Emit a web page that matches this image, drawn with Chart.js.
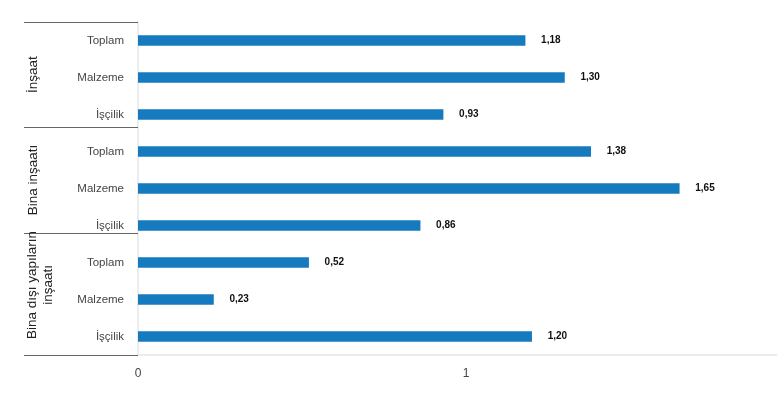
<!DOCTYPE html>
<html>
<head>
<meta charset="utf-8">
<script src="https://cdn.jsdelivr.net/npm/chart.js@4"></script>
<style>
html,body{margin:0;padding:0;background:#fff;}
#wrap{width:777px;height:398px;position:relative;}
</style>
</head>
<body>
<div id="wrap"><canvas id="c"></canvas></div>
<script>
const categories = ["Toplam","Malzeme","İşçilik","Toplam","Malzeme","İşçilik","Toplam","Malzeme","İşçilik"];
const groups = [["İnşaat"],["Bina inşaatı"],["Bina dışı yapıların","inşaatı"]];
const groupSizes = [3,3,3];
const values = [1.18,1.30,0.93,1.38,1.65,0.86,0.52,0.23,1.20];
const xTicks = [0,1];
const xMax = 1.948;

const FONT = "'Liberation Sans', Arial, sans-serif";

const groupPlugin = {
  id: 'groups',
  afterDraw(chart) {
    const ctx = chart.ctx;
    const y = chart.scales.y;
    const left = 24, right = chart.chartArea.left;
    // separator offsets (in category units) relative to each group's end, as in the original
    const sepShift = [0, -0.16, -0.30, 0];
    let start = 0;
    const bounds = [-0.5];
    groupSizes.forEach(n => { start += n; bounds.push(start - 0.5); });
    const pix = bounds.map((b, i) => y.getPixelForValue(b + sepShift[i]));
    ctx.save();
    ctx.strokeStyle = '#666';
    ctx.lineWidth = 1;
    pix.forEach(p => {
      const py = Math.round(p) + 0.5;
      ctx.beginPath();
      ctx.moveTo(left, py);
      ctx.lineTo(right, py);
      ctx.stroke();
    });
    ctx.fillStyle = '#222';
    ctx.font = '13.5px ' + FONT;
    ctx.textAlign = 'center';
    ctx.textBaseline = 'middle';
    groups.forEach((lines, gi) => {
      let cy = (pix[gi] + pix[gi + 1]) / 2;
      if (lines.length > 1) cy -= 9;
      const lh = 16;
      lines.forEach((ln, li) => {
        const cx = 33 + (li - (lines.length - 1) / 2) * lh + (lines.length > 1 ? 7 : 0);
        ctx.save();
        ctx.translate(cx, cy);
        ctx.rotate(-Math.PI / 2);
        ctx.fillText(ln, 0, 0);
        ctx.restore();
      });
    });
    ctx.restore();
  },
  afterDatasetsDraw(chart) {
    const ctx = chart.ctx;
    const meta = chart.getDatasetMeta(0);
    ctx.save();
    ctx.fillStyle = '#111';
    ctx.font = 'bold 10px ' + FONT;
    ctx.textAlign = 'left';
    ctx.textBaseline = 'middle';
    meta.data.forEach((el, i) => {
      ctx.fillText(values[i].toFixed(2).replace('.', ','), el.x + 16, el.y);
    });
    ctx.restore();
  }
};

new Chart(document.getElementById('c'), {
  type: 'bar',
  data: {
    labels: categories,
    datasets: [{
      data: values,
      backgroundColor: '#167abf',
      borderWidth: 0,
      barThickness: 10
    }]
  },
  options: {
    indexAxis: 'y',
    responsive: true,
    maintainAspectRatio: false,
    animation: false,
    layout: { padding: { top: 22, right: 0, bottom: 0, left: 0 } },
    plugins: { legend: { display: false }, tooltip: { enabled: false } },
    scales: {
      x: {
        min: 0,
        max: xMax,
        afterBuildTicks(scale) { scale.ticks = xTicks.map(v => ({ value: v })); },
        afterFit(scale) { scale.height = 43; },
        grid: { display: false, drawTicks: false },
        border: { display: true, color: '#ececec', width: 2 },
        ticks: {
          color: '#444',
          font: { family: FONT, size: 12 },
          padding: 11,
          maxRotation: 0,
          callback: v => String(v)
        }
      },
      y: {
        afterFit(scale) { scale.width = 138; },
        grid: { display: false, drawTicks: false },
        border: { display: true, color: '#ececec', width: 2 },
        ticks: {
          color: '#444',
          font: { family: FONT, size: 11.5 },
          padding: 14,
          autoSkip: false
        }
      }
    }
  },
  plugins: [groupPlugin]
});
</script>
</body>
</html>
